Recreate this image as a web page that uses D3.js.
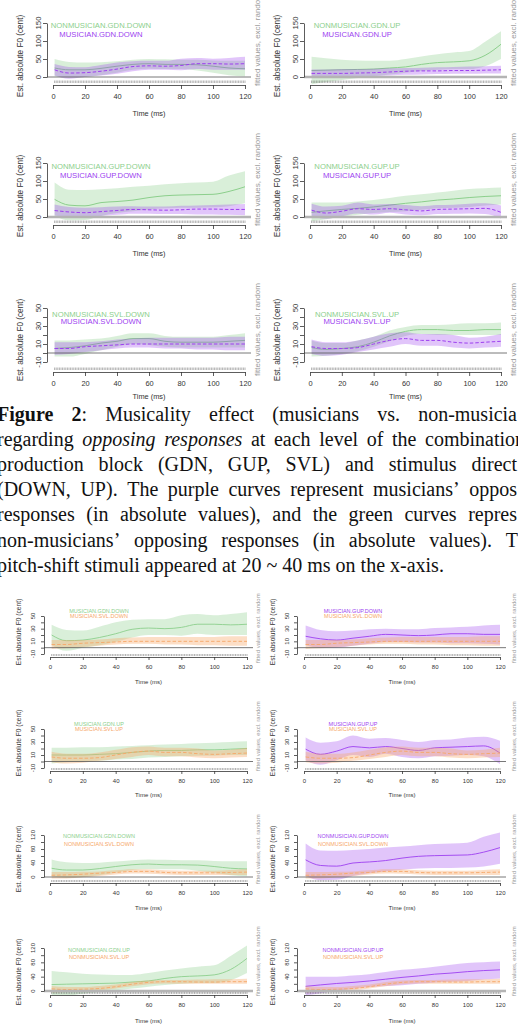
<!DOCTYPE html>
<html><head><meta charset="utf-8">
<script src="https://cdn.jsdelivr.net/npm/d3@7"></script>
<style>body{margin:0;background:#fff;overflow:hidden}svg{display:block}</style>
</head><body>
<script>
// ---------------- DATA ----------------
const times = [1,10,20,30,40,50,60,70,80,90,100,110,120];
const xTicks = [0,20,40,60,80,100,120];
const yTicksA = [0,50,100,150], yLabelsA = [0,50,100,150];
const yTicksB = [-10,0,10,20,30,40,50], yLabelsB = [-10,10,30,50];
const yTicksC = [0,20,40,60,80,100,120], yLabelsC = [0,40,80,120];

// non-musician (NM) / musician (M) fitted values with CI bounds
const nmGdnDownFit = [25,20,20,24,30,35,37,35,35,34,30,25,23];
const nmGdnDownLo  = [2,-2,0,5,12,20,23,22,22,18,12,5,2];
const nmGdnDownHi  = [50,42,40,41,44,48,50,49,48,48,46,45,45];
const mGdnDownFit  = [20,11,12,16,22,29,31,30,32,37,37,36,37];
const mGdnDownLo   = [4,-5,0,4,9,16,20,20,19,22,20,20,20];
const mGdnDownHi   = [36,28,27,33,40,44,45,45,51,53,51,53,56];
const nmGdnUpFit   = [18,19,20,21,22,25,28,35,40,42,45,60,91];
const nmGdnUpLo    = [-20,-14,-8,-3,2,7,12,17,20,22,22,30,50];
const nmGdnUpHi    = [56,52,48,46,45,45,50,57,63,68,72,98,127];
const mGdnUpFit    = [10,10,10,11,12,14,16,17,17,18,18,19,20];
const mGdnUpLo     = [-3,-1,0,1,3,4,6,7,8,9,9,10,10];
const mGdnUpHi     = [21,21,22,22,23,24,25,26,27,28,29,30,31];
const nmGupDownFit = [49,33,31,40,43,47,54,59,61,62,63,71,84];
const nmGupDownLo  = [3,-9,-8,3,11,16,21,24,26,26,27,30,38];
const nmGupDownHi  = [96,76,75,77,80,84,87,91,94,96,98,115,127];
const mGupDownFit  = [18,14,12,15,18,21,20,19,20,22,22,21,21];
const mGupDownLo   = [4,0,0,3,6,9,9,8,8,7,7,6,5];
const mGupDownHi   = [35,28,26,27,29,30,29,29,31,32,33,35,36];
const nmGupUpFit   = [13,17,21,24,28,33,38,42,47,50,54,57,59];
const nmGupUpLo    = [-12,-6,0,6,11,14,16,20,24,26,28,32,35];
const nmGupUpHi    = [40,40,40,43,47,53,59,63,68,73,78,80,82];
const mGupUpFit    = [19,11,16,23,21,23,20,17,21,22,23,24,13];
const mGupUpLo     = [2,-5,2,10,7,12,7,5,8,9,10,8,-4];
const mGupUpHi     = [37,29,31,40,35,36,33,30,33,34,37,38,32];
const nmSvlDownFit = [5,6,8,11,13,16,16,13,12,12,12,13,14];
const nmSvlDownLo  = [-4,-4,-1,3,7,10,9,7,6,6,6,6,6];
const nmSvlDownHi  = [14,14,15,16,19,22,22,19,18,18,18,20,22];
const mSvlDownFit  = [5,5,7,8,9,10,10,10,10,10,10,10,10];
const mSvlDownLo   = [-2,-1,1,3,5,6,6,5,5,4,4,3,3];
const mSvlDownHi   = [12,12,12,13,15,16,17,17,17,17,17,18,18];
const nmSvlUpFit   = [6,4,5,7,12,19,24,26,26,25,25,26,26];
const nmSvlUpLo    = [-4,-3,-1,2,7,13,19,21,20,20,20,20,20];
const nmSvlUpHi    = [14,11,11,14,18,25,29,31,31,32,33,33,34];
const mSvlUpFit    = [7,5,5,6,10,14,16,14,14,12,11,12,13];
const mSvlUpLo     = [-1,-3,-2,1,4,7,10,8,8,6,5,6,7];
const mSvlUpHi     = [15,12,12,14,18,22,23,21,21,20,17,18,21];

const captionLines = [
  "<b>Figure</b> <b>2</b>: Musicality effect (musicians vs. non-musicia",
  "regarding <i>opposing</i> <i>responses</i> at each level of the combination",
  "production block (GDN, GUP, SVL) and stimulus direct",
  "(DOWN, UP). The purple curves represent musicians\u2019 oppos",
  "responses (in absolute values), and the green curves repres",
  "non-musicians\u2019 opposing responses (in absolute values). T",
  "pitch-shift stimuli appeared at 20 ~ 40 ms on the x-axis."
];

// ---------------- STYLE ----------------
const COL = {green:'#8ccf8c', purple:'#9d3ff0', orange:'#f6a768'};
const BAND = {green:0.33, purple:0.3, orange:0.38};
const S = (fit, lo, hi, col, dash) => ({fit, lo, hi, col, dash});

const svg = d3.select('body').append('svg').attr('width',518).attr('height',1024);
let clipId = 0;

function panel(L, series, labels, zero) {
  const g = svg.append('g');
  const x = d3.scaleLinear().domain([0,120]).range([L.x0, L.x1]);
  const y = d3.scaleLinear().domain(L.yDom).range(L.yRange);
  const id = 'cp' + (clipId++);
  g.append('clipPath').attr('id', id).append('rect')
    .attr('x', L.yAxisX).attr('y', L.yRange[1] - 14)
    .attr('width', L.x1 - L.yAxisX + 8).attr('height', L.axisY - L.yRange[1] + 14);
  const pg = g.append('g').attr('clip-path', `url(#${id})`);
  series.forEach(s => {
    const d = times.map((t,i) => ({t, f:s.fit[i], lo:s.lo[i], hi:s.hi[i]}));
    pg.append('path').datum(d)
      .attr('d', d3.area().x(v=>x(v.t)).y0(v=>y(v.lo)).y1(v=>y(v.hi)).curve(d3.curveMonotoneX))
      .attr('fill', COL[s.col]).attr('fill-opacity', BAND[s.col]);
    pg.append('path').datum(d)
      .attr('d', d3.line().x(v=>x(v.t)).y(v=>y(v.f)).curve(d3.curveMonotoneX))
      .attr('fill','none').attr('stroke', COL[s.col]).attr('stroke-width', L.lw)
      .attr('stroke-dasharray', s.dash ? '3.5,2' : null);
  });
  // zero reference line
  g.append('line').attr('x1', L.yAxisX).attr('x2', L.x1 + 6).attr('y1', y(0)).attr('y2', y(0))
    .attr('stroke', zero === 'thick' ? '#b4b4b4' : '#555').attr('stroke-width', zero === 'thick' ? 2.4 : 0.8);
  // rug
  g.append('g').selectAll('line').data(d3.range(1,121)).join('line')
    .attr('x1', v=>x(v)).attr('x2', v=>x(v)).attr('y1', L.axisY - L.rug[0]).attr('y2', L.axisY - L.rug[1])
    .attr('stroke', '#555').attr('stroke-width', 0.45);
  // x axis
  const xa = g.append('g').attr('transform', `translate(0,${L.axisY})`)
    .call(d3.axisBottom(x).tickValues(xTicks).tickSize(L.tick).tickSizeOuter(0).tickPadding(L.xPad));
  xa.selectAll('path,line').attr('stroke', '#333').attr('stroke-width', 0.8);
  xa.selectAll('text').attr('font-family','Liberation Sans, Arial').attr('font-size', L.fs).attr('fill','#333');
  g.append('text').attr('x', (L.x0 + L.x1)/2).attr('y', L.titleY).attr('text-anchor','middle')
    .attr('font-family','Liberation Sans, Arial').attr('font-size', L.fs).attr('fill','#333').text('Time (ms)');
  // y axis
  const ya = g.append('g').attr('transform', `translate(${L.yAxisX},0)`)
    .call(d3.axisLeft(y).tickValues(L.yTicks).tickSize(L.tick).tickSizeOuter(0).tickFormat(''));
  ya.selectAll('path,line').attr('stroke', '#333').attr('stroke-width', 0.8);
  L.yLabels.forEach(v => {
    g.append('text').attr('transform', `translate(${L.tickLabX},${y(v)}) rotate(-90)`)
      .attr('text-anchor','middle').attr('dy','0.36em')
      .attr('font-family','Liberation Sans, Arial').attr('font-size', L.fsY).attr('fill','#333').text(v);
  });
  g.append('text').attr('transform', `translate(${L.yTitleX},${L.yTitleC}) rotate(-90)`)
    .attr('text-anchor','middle').attr('dy','0.36em')
    .attr('font-family','Liberation Sans, Arial').attr('font-size', L.fsT).attr('fill','#333')
    .text('Est. absolute F0 (cent)');
  // right-side label
  g.append('text').attr('transform', `translate(${L.fitX},${L.fitBottom}) rotate(-90)`)
    .attr('font-family','Liberation Sans, Arial').attr('font-size', L.fsFit).attr('fill','#9a9a9a')
    .text('fitted values, excl. random');
  // legend
  labels.forEach((lab, i) => {
    g.append('text').attr('x', L.legX).attr('y', L.legY[i]).attr('text-anchor','middle')
      .attr('font-family','Liberation Sans, Arial').attr('font-size', L.fsLeg)
      .attr('fill', COL[series[i].col]).text(lab);
  });
}

// ---------------- LAYOUT ----------------
const topCols = [
  {x0:53, x1:245, yAxisX:47, tickLabX:38, yTitleX:20, legX:101, fitX:260},
  {x0:310, x1:501, yAxisX:304, tickLabX:295, yTitleX:277, legX:357, fitX:516}
];
const topRows = [
  {yDom:[0,150], yRange:[77,23], axisY:85, titleY:116, legY:[28.3,36.7], yTitleC:56, fitBottom:86, yTicks:yTicksA, yLabels:yLabelsA},
  {yDom:[0,150], yRange:[217,163], axisY:225, titleY:256, legY:[169.3,177.7], yTitleC:196, fitBottom:226, yTicks:yTicksA, yLabels:yLabelsA},
  {yDom:[-10,50], yRange:[362,308], axisY:372, titleY:399, legY:[316.7,324.3], yTitleC:340, fitBottom:376, yTicks:yTicksB, yLabels:yLabelsB}
];
const topStyle = {fs:7.4, fsY:7.8, fsT:8.2, fsLeg:7.7, fsFit:8, tick:4, xPad:5, rug:[4.5,2], lw:1};
const botCols = [
  {x0:50, x1:247, yAxisX:44, tickLabX:33, yTitleX:19, legX:99, fitX:260},
  {x0:304, x1:500, yAxisX:297, tickLabX:287, yTitleX:273, legX:353, fitX:516}
];
const botRows = [
  {yDom:[-10,50], yRange:[654,616], axisY:657, titleY:683.5, legY:[612.5,618.3], yTitleC:632, fitBottom:663, yTicks:yTicksB, yLabels:yLabelsB},
  {yDom:[-10,50], yRange:[768,729], axisY:771, titleY:797, legY:[725.7,731.3], yTitleC:743, fitBottom:771, yTicks:yTicksB, yLabels:yLabelsB},
  {yDom:[0,120], yRange:[877,835], axisY:883, titleY:910, legY:[838.3,845.7], yTitleC:859, fitBottom:884, yTicks:yTicksC, yLabels:yLabelsC},
  {yDom:[0,120], yRange:[991,948], axisY:995, titleY:1023, legY:[951.7,958.7], yTitleC:972, fitBottom:996, yTicks:yTicksC, yLabels:yLabelsC}
];
const botStyle = {fs:6, fsY:6, fsT:6.6, fsLeg:5.5, fsFit:6, tick:3, xPad:4.5, rug:[3,1], lw:0.9};
const L = (c, r, st) => Object.assign({}, c, r, st);

// ---------------- PANELS ----------------
panel(L(topCols[0], topRows[0], topStyle), [S(nmGdnDownFit,nmGdnDownLo,nmGdnDownHi,'green',false), S(mGdnDownFit,mGdnDownLo,mGdnDownHi,'purple',true)], ['NONMUSICIAN.GDN.DOWN','MUSICIAN.GDN.DOWN'], 'thin');
panel(L(topCols[1], topRows[0], topStyle), [S(nmGdnUpFit,nmGdnUpLo,nmGdnUpHi,'green',false), S(mGdnUpFit,mGdnUpLo,mGdnUpHi,'purple',true)], ['NONMUSICIAN.GDN.UP','MUSICIAN.GDN.UP'], 'thick');
panel(L(topCols[0], topRows[1], topStyle), [S(nmGupDownFit,nmGupDownLo,nmGupDownHi,'green',false), S(mGupDownFit,mGupDownLo,mGupDownHi,'purple',true)], ['NONMUSICIAN.GUP.DOWN','MUSICIAN.GUP.DOWN'], 'thick');
panel(L(topCols[1], topRows[1], topStyle), [S(nmGupUpFit,nmGupUpLo,nmGupUpHi,'green',false), S(mGupUpFit,mGupUpLo,mGupUpHi,'purple',true)], ['NONMUSICIAN.GUP.UP','MUSICIAN.GUP.UP'], 'thick');
panel(L(topCols[0], topRows[2], topStyle), [S(nmSvlDownFit,nmSvlDownLo,nmSvlDownHi,'green',false), S(mSvlDownFit,mSvlDownLo,mSvlDownHi,'purple',true)], ['NONMUSICIAN.SVL.DOWN','MUSICIAN.SVL.DOWN'], 'thin');
panel(L(topCols[1], topRows[2], topStyle), [S(nmSvlUpFit,nmSvlUpLo,nmSvlUpHi,'green',false), S(mSvlUpFit,mSvlUpLo,mSvlUpHi,'purple',true)], ['NONMUSICIAN.SVL.UP','MUSICIAN.SVL.UP'], 'thin');

panel(L(botCols[0], botRows[0], botStyle), [S(mGdnDownFit,mGdnDownLo,mGdnDownHi,'green',false), S(mSvlDownFit,mSvlDownLo,mSvlDownHi,'orange',true)], ['MUSICIAN.GDN.DOWN','MUSICIAN.SVL.DOWN'], 'thin');
panel(L(botCols[1], botRows[0], botStyle), [S(mGupDownFit,mGupDownLo,mGupDownHi,'purple',false), S(mSvlDownFit,mSvlDownLo,mSvlDownHi,'orange',true)], ['MUSICIAN.GUP.DOWN','MUSICIAN.SVL.DOWN'], 'thin');
panel(L(botCols[0], botRows[1], botStyle), [S(mGdnUpFit,mGdnUpLo,mGdnUpHi,'green',false), S(mSvlUpFit,mSvlUpLo,mSvlUpHi,'orange',true)], ['MUSICIAN.GDN.UP','MUSICIAN.SVL.UP'], 'thin');
panel(L(botCols[1], botRows[1], botStyle), [S(mGupUpFit,mGupUpLo,mGupUpHi,'purple',false), S(mSvlUpFit,mSvlUpLo,mSvlUpHi,'orange',true)], ['MUSICIAN.GUP.UP','MUSICIAN.SVL.UP'], 'thin');
panel(L(botCols[0], botRows[2], botStyle), [S(nmGdnDownFit,nmGdnDownLo,nmGdnDownHi,'green',false), S(nmSvlDownFit,nmSvlDownLo,nmSvlDownHi,'orange',true)], ['NONMUSICIAN.GDN.DOWN','NONMUSICIAN.SVL.DOWN'], 'thin');
panel(L(botCols[1], botRows[2], botStyle), [S(nmGupDownFit,nmGupDownLo,nmGupDownHi,'purple',false), S(nmSvlDownFit,nmSvlDownLo,nmSvlDownHi,'orange',true)], ['NONMUSICIAN.GUP.DOWN','NONMUSICIAN.SVL.DOWN'], 'thin');
panel(L(botCols[0], botRows[3], botStyle), [S(nmGdnUpFit,nmGdnUpLo,nmGdnUpHi,'green',false), S(nmSvlUpFit,nmSvlUpLo,nmSvlUpHi,'orange',true)], ['NONMUSICIAN.GDN.UP','NONMUSICIAN.SVL.UP'], 'thick');
panel(L(botCols[1], botRows[3], botStyle), [S(nmGupUpFit,nmGupUpLo,nmGupUpHi,'purple',false), S(nmSvlUpFit,nmSvlUpLo,nmSvlUpHi,'orange',true)], ['NONMUSICIAN.GUP.UP','NONMUSICIAN.SVL.UP'], 'thick');

// ---------------- CAPTION ----------------
const capStart = -3, capBase = 421, capStep = 25.1;
const capEnds = [517, 525, 517, 517, 517, 518, null];
const cap = svg.append('g').attr('font-family','Liberation Serif, Times New Roman, serif').attr('font-size', 20).attr('fill','#111');
function addWord(word, yy) {
  const t = cap.append('text').attr('y', yy);
  const re = /<(b|i)>(.*?)<\/\1>|([^<]+)/g; let m;
  while ((m = re.exec(word)) !== null) {
    const ts = t.append('tspan');
    if (m[1] === 'b') ts.attr('font-weight','bold').text(m[2]);
    else if (m[1] === 'i') ts.attr('font-style','italic').text(m[2]);
    else ts.text(m[3]);
  }
  return t;
}
captionLines.forEach((line, li) => {
  const yy = capBase + li * capStep;
  const words = line.split(' ').map(w => addWord(w, yy));
  const widths = words.map(w => w.node().getComputedTextLength());
  const total = d3.sum(widths);
  let gap;
  if (capEnds[li] == null) {
    const sp = cap.append('text').text('a a'); const sp2 = cap.append('text').text('aa');
    gap = sp.node().getComputedTextLength() - sp2.node().getComputedTextLength();
    sp.remove(); sp2.remove();
  } else gap = (capEnds[li] - capStart - total) / (words.length - 1);
  let xx = capStart;
  words.forEach((w, i) => { w.attr('x', xx); xx += widths[i] + gap; });
});
</script>
</body></html>
